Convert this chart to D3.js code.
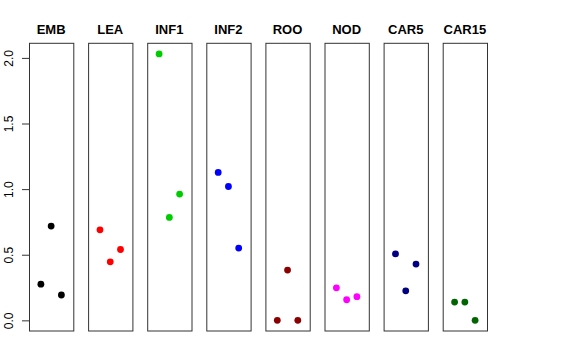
<!DOCTYPE html>
<html>
<head>
<meta charset="utf-8">
<script src="https://cdn.jsdelivr.net/npm/d3@7"></script>
<style>
	body { margin: 0; background: #fff; }
	text { font-family: "Liberation Sans", Arial, sans-serif; }
</style>
</head>
<body>
<div id="chart"></div>
<script>

	// tissues and their colours
	var tissues = ["EMB", "LEA", "INF1", "INF2", "ROO", "NOD", "CAR5", "CAR15"];
	var colors = ["#000000", "#ff0000", "#00cd00", "#0000ff", "#8b0000", "#ff00ff", "#000080", "#006400"];

	// three replicate values per tissue
	var rep1 = [0.276, 0.690, 2.030, 1.127, 0.000, 0.248, 0.507, 0.139];
	var rep2 = [0.718, 0.446, 0.784, 1.020, 0.383, 0.157, 0.225, 0.139];
	var rep3 = [0.193, 0.540, 0.962, 0.551, 0.000, 0.180, 0.429, 0.000];

	var yTicks = [0, 0.5, 1, 1.5, 2];

	var W = 576, H = 360;
	var top_y = 43.3, bot_y = 331;
	var panel_w = 44.3, first_x = 29, step = 59.1;

	var svg = d3.select("#chart").append("svg")
		.attr("width", W)
		.attr("height", H);

	var ymax = d3.max(rep1.concat(rep2, rep3));
	var pad = ymax * 0.04;
	var y = d3.scaleLinear().domain([-pad, ymax + pad]).range([bot_y, top_y]);

	// y axis on the first panel
	var yAxis = svg.append("g")
		.attr("transform", "translate(" + first_x + ",0)")
		.call(d3.axisLeft(y).tickValues(yTicks).tickFormat(d3.format(".1f")).tickSize(7).tickSizeOuter(0));
	yAxis.select(".domain").remove();
	yAxis.selectAll("line").attr("stroke", "#333");
	yAxis.selectAll("text")
		.attr("font-size", "12px")
		.attr("fill", "#000")
		.attr("x", null).attr("dy", null)
		.attr("text-anchor", "middle")
		.attr("transform", function(d) { return "translate(-16.5," + 0 + ") rotate(-90)"; });

	tissues.forEach(function(t, i) {
		var x0 = first_x + i * step;
		var x = d3.scaleLinear().domain([-0.16, 4.16]).range([x0, x0 + panel_w]);
		var g = svg.append("g");

		g.append("rect")
			.attr("x", x0 + 0.5)
			.attr("y", top_y)
			.attr("width", panel_w)
			.attr("height", bot_y - top_y)
			.attr("fill", "none")
			.attr("stroke", "#333")
			.attr("stroke-width", 1);

		g.append("text")
			.attr("x", x0 + panel_w / 2)
			.attr("y", 33.5)
			.attr("text-anchor", "middle")
			.attr("font-size", "13px")
			.attr("font-weight", "bold")
			.text(t);

		var vals = [rep1[i], rep2[i], rep3[i]];
		g.selectAll("circle")
			.data(vals)
			.enter()
			.append("circle")
			.attr("cx", function(d, j) { return x(j + 1); })
			.attr("cy", function(d) { return y(d); })
			.attr("r", 3.4)
			.attr("fill", colors[i]);
	});

</script>
</body>
</html>
